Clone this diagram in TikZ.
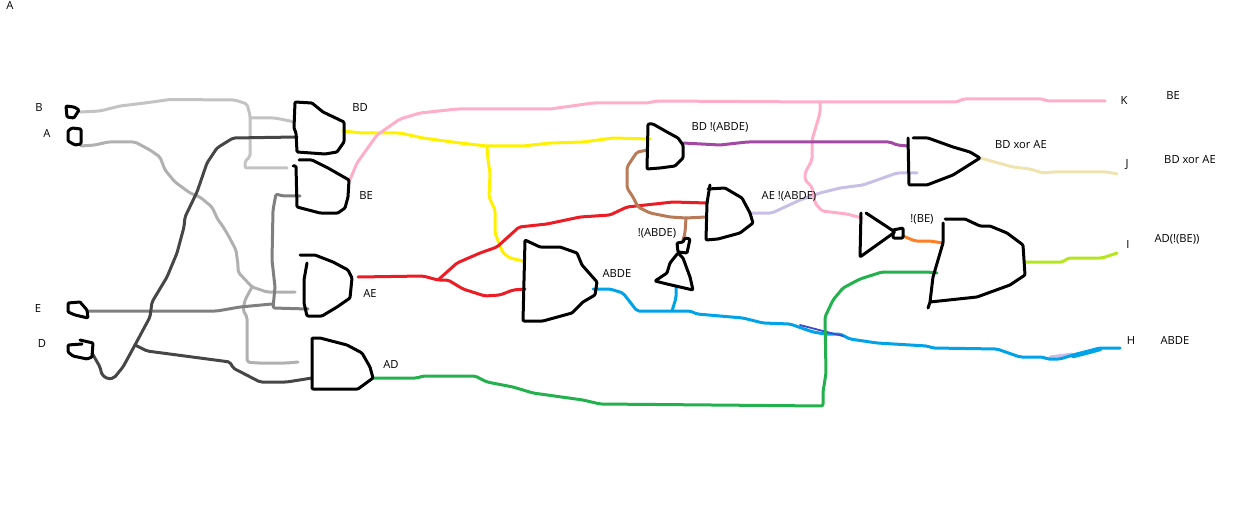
\documentclass[tikz,border=0pt]{standalone}
\usepackage{fontspec}
\setmainfont{Open Sans}
\definecolor{wirelight}{HTML}{C3C3C3}
\definecolor{wiresilver}{HTML}{B0B0B0}
\definecolor{wiregray}{HTML}{7F7F7F}
\definecolor{wiredark}{HTML}{464646}
\definecolor{wireyellow}{HTML}{FFF200}
\definecolor{wirepink}{HTML}{FFAEC9}
\definecolor{wirered}{HTML}{ED1C24}
\definecolor{wirebrown}{HTML}{B97A57}
\definecolor{wireblue}{HTML}{00A2E8}
\definecolor{wireindigo}{HTML}{3F48CC}
\definecolor{wirepurple}{HTML}{A349A4}
\definecolor{wirelavender}{HTML}{C8BFE7}
\definecolor{wiretan}{HTML}{EFE4B0}
\definecolor{wireorange}{HTML}{FF7F27}
\definecolor{wirelime}{HTML}{B5E61D}
\definecolor{wiregreen}{HTML}{22B14C}
\begin{document}
\begin{tikzpicture}[x=1pt, y=-1pt,
    gate/.style={draw=black, line width=3pt, line join=round, line cap=round, rounded corners=1pt},
    wire/.style={line width=3pt, line join=round, line cap=round, rounded corners=2pt},
    tag/.style={inner sep=0pt, font=\fontsize{11.2}{13}\selectfont}]
    \useasboundingbox (0,0) rectangle (1243,508);

    % pins
    \coordinate (bpin) at (80,112);
    \coordinate (apin) at (81,146);
    \coordinate (epin) at (88,311);
    \coordinate (dpin) at (92,353);
    \coordinate (bdout) at (343,131);
    \coordinate (beout) at (349,182);
    \coordinate (aeout) at (358,277);
    \coordinate (adout) at (373,378);
    \coordinate (abdeout) at (593,289);
    \coordinate (abdenotout) at (683,240);
    \coordinate (abdenotin) at (676,287);
    \coordinate (bdnotout) at (683,143);
    \coordinate (aenotout) at (750,213);
    \coordinate (xorout) at (980,158);
    \coordinate (benotin) at (862,218);
    \coordinate (benotout) at (903,236);
    \coordinate (bigin) at (943,243);
    \coordinate (bigout) at (1026,262);
    \coordinate (dsplit) at (135,345);
    \coordinate (asplit) at (252,287);
    \coordinate (bsplit) at (250,118);
    \coordinate (ysplit) at (487,146);
    \coordinate (rsplit) at (438,280);
    \coordinate (psplit) at (820,102);
    \coordinate (nsplit) at (686,218);
    \coordinate (hsplit) at (672,311);

    % inputs
    \draw[wire, wirelight] (bpin) -- (100,111) -- (120,106) -- (145,103) -- (170,99.5) -- (235,100) -- (247,104) -- (250,115) -- (250,157) -- (245,161) -- (245,168) -- (287,168);
    \draw[wire, wirelight] (bsplit) -- (275,118) -- (295,122);
    \draw[wire, wiresilver] (apin) -- (95,145) -- (108,142) -- (135,142) -- (150,150) -- (160,157) -- (165,170) -- (175,182) -- (190,193) -- (200,197) -- (212,207) -- (218,220) -- (222,225) -- (228,235) -- (236,250) -- (238,265) -- (238,272) -- (asplit) -- (267,292) -- (295,292);
    \draw[wire, wiresilver] (asplit) -- (245,300) -- (243,310) -- (247,317) -- (247,362) -- (257,363) -- (287,363) -- (298,362);
    \draw[wire, wiregray] (epin) -- (217,311) -- (240,307) -- (272,304);
    \draw[wire, wiregray] (300,196) -- (283,196) -- (276,194) -- (273,210) -- (272,260) -- (275,287) -- (273,308) -- (308,309);
    \draw[wire, wiredark] (dpin) -- (100,367) -- (102,375) -- (108,379) -- (114,378) -- (123,367) -- (dsplit) -- (150,317) -- (152,302) -- (167,277) -- (177,253) -- (184,227) -- (185,217) -- (197,192) -- (207,163) -- (217,148) -- (233,138) -- (297,137);
    \draw[wire, wiredark] (dsplit) -- (147,351) -- (230,362) -- (233,368) -- (260,382) -- (287,382) -- (312,378);

    % outputs of the first row
    \draw[wire, wireyellow] (bdout) -- (362,133) -- (400,133) -- (423,138) -- (460,143) -- (ysplit) -- (523,146) -- (550,143) -- (583,142) -- (613,138) -- (650,139);
    \draw[wire, wireyellow] (ysplit) -- (488,160) -- (490,173) -- (489,197) -- (495,210) -- (495,233) -- (503,253) -- (510,258) -- (523,261);
    \draw[wire, wirepink] (beout) -- (357,163) -- (377,135) -- (400,119) -- (420,113) -- (457,109) -- (550,109) -- (593,103) -- (647,103) -- (657,101) -- (psplit) -- (957,102) -- (963,99) -- (1043,99) -- (1047,101) -- (1105,101);
    \draw[wire, wirered] (aeout) -- (423,276) -- (rsplit) -- (448,280) -- (463,289) -- (485,296) -- (500,295) -- (513,290) -- (525,289);
    \draw[wire, wirered] (rsplit) -- (457,263) -- (480,253) -- (497,247) -- (519,227) -- (547,224) -- (580,217) -- (610,215) -- (627,207) -- (673,202) -- (707,203);
    \draw[wire, wirebrown] (648,150) -- (637,152) -- (627,167) -- (627,188) -- (633,197) -- (638,207) -- (650,213) -- (670,217) -- (nsplit) -- (706,217);
    \draw[wire, wirebrown] (nsplit) -- (685,233) -- (abdenotout);
    \draw[wire, wirelavender] (aenotout) -- (772,213) -- (800,200) -- (820,193) -- (840,188) -- (863,185) -- (897,173) -- (917,173);
    \draw[wire, wirepink] (psplit) -- (820,113) -- (815,130) -- (812,140) -- (812,160) -- (805,173) -- (805,180) -- (812,187) -- (815,203) -- (822,211) -- (847,214) -- (benotin);
    \draw[wire, wirepurple] (bdnotout) -- (720,145) -- (747,142) -- (890,142) -- (897,145) -- (908,146);
    \draw[wire, wiretan] (xorout) -- (1013,167) -- (1030,169) -- (1043,173) -- (1053,172) -- (1107,172) -- (1117,174);
    \draw[wire, wireorange] (benotout) -- (915,241) -- (930,241) -- (bigin);
    \draw[wire, wirelime] (bigout) -- (1063,262) -- (1068,258) -- (1102,258) -- (1117,253);

    % long ones at the bottom
    \draw[wire, wirelavender] (1050,357) -- (1072,354);
    \draw[wire, wireblue] (abdeout) -- (610,289) -- (623,293) -- (637,311) -- (hsplit) -- (690,311) -- (697,314) -- (743,318) -- (763,323) -- (790,324) -- (813,332) -- (825,334) -- (840,334) -- (850,339) -- (877,343) -- (927,346) -- (933,348) -- (997,349) -- (1020,357) -- (1043,357) -- (1047,359) -- (1060,359) -- (1073,355) -- (1100,348) -- (1120,348);
    \draw[wire, wireblue] (hsplit) -- (676,298) -- (abdenotin);
    \draw[wire, wireblue, line width=4.5pt] (1073,356) -- (1085,353) -- (1100,349);
    \draw[wire, wireindigo, line width=1.8pt] (800,325) -- (823,331) -- (843,336);
    \draw[wire, wiregreen] (adout) -- (417,378) -- (423,376) -- (475,376) -- (487,382) -- (513,387) -- (533,393) -- (583,400) -- (600,404) -- (823,406) -- (823,392) -- (826,373) -- (825,317) -- (833,300) -- (843,288) -- (860,279) -- (882,272) -- (927,272) -- (937,273);

    % input stubs
    \draw[gate] (66,106) -- (67,117) -- (74,118) -- (79,110) -- (74,107) -- cycle;
    \draw[gate] (72,128) -- (68,131) -- (68,141) -- (75,145) -- (81,144) -- (81,129) -- cycle;
    \draw[gate] (80,302) -- (68,303) -- (68,312) -- (75,315) -- (88,318) -- (87,310) -- (80,302);
    \draw[gate] (80,340) -- (93,343) -- (92,357) -- (87,359) -- (73,356) -- (68,352) -- (68,345) -- (82,344);

    % gates
    \draw[gate] (295,102) -- (312,103) -- (323,112) -- (344,122) -- (344,142) -- (337,152) -- (325,154) -- (297,152) -- (296,133) -- (294,128) -- cycle;
    \draw[gate] (299,160) -- (312,160) -- (328,168) -- (349,180) -- (348,197) -- (345,208) -- (338,213) -- (320,213) -- (297,207) -- (296,166) -- (293,166);
    \draw[gate] (300,255) -- (315,255) -- (333,262) -- (348,270) -- (352,278) -- (350,298) -- (337,307) -- (322,316) -- (307,316) -- (304,303) -- (304,280) -- (307,263);
    \draw[gate] (312,338) -- (320,338) -- (347,345) -- (362,353) -- (370,367) -- (373,378) -- (358,389) -- (312,389) -- cycle;
    \draw[gate] (525,240) -- (540,247) -- (560,247) -- (577,253) -- (582,265) -- (597,282) -- (595,295) -- (583,302) -- (572,313) -- (543,321) -- (523,321) -- cycle;
    \draw[gate] (648,124) -- (653,124) -- (667,132) -- (678,138) -- (683,145) -- (683,158) -- (675,166) -- (660,168) -- (647,169) -- cycle;
    \draw[gate] (710,185) -- (707,203) -- (706,240) -- (718,239) -- (740,233) -- (753,223) -- (750,213) -- (742,198) -- (725,188) -- (708,189);
    \draw[gate] (678,253) -- (670,263) -- (667,273) -- (655,281) -- (667,284) -- (693,290) -- (690,277) -- (683,258) -- cycle;
    \draw[gate] (677,243) -- (683,242) -- (685,238) -- (690,239) -- (687,253) -- (678,252) -- cycle;
    \draw[gate] (908,138) -- (909,185) -- (927,185) -- (953,175) -- (980,158) -- (970,152) -- (953,147) -- (928,138) -- (913,138);
    \draw[gate] (861,213) -- (860,257) -- (895,232) -- (866,213);
    \draw[gate] (893,230) -- (903,228) -- (903,238) -- (893,238) -- cycle;
    \draw[gate] (945,219) -- (965,219) -- (980,226) -- (990,226) -- (1007,233) -- (1023,245) -- (1025,275) -- (1010,285) -- (977,297) -- (930,302) -- (933,277) -- (943,243) -- (943,223);
    \draw[gate] (930,302) -- (928,308);

    % labels
    \node[tag] (corner) at (10,5) {A};
    \node[tag] (inb) at (39,108) {B};
    \node[tag] (ina) at (47,133) {A};
    \node[tag] (ine) at (38,309) {E};
    \node[tag] (ind) at (42,344) {D};
    \node[tag] (bdtag) at (360,108) {BD};
    \node[tag] (betag) at (366,196) {BE};
    \node[tag] (aetag) at (370,293) {AE};
    \node[tag] (adtag) at (391,364) {AD};
    \node[tag] (abdetag) at (617,273) {ABDE};
    \node[tag] (abdenottag) at (657,233) {!(ABDE)};
    \node[tag] (bdnottag) at (720,127) {BD !(ABDE)};
    \node[tag] (aenottag) at (789,196) {AE !(ABDE)};
    \node[tag] (xortag) at (1021,145) {BD xor AE};
    \node[tag] (benottag) at (922,219) {!(BE)};
    \node[tag] (outk) at (1124,101) {K};
    \node[tag] (outkname) at (1173,96) {BE};
    \node[tag] (outj) at (1127,165) {J};
    \node[tag] (outjname) at (1190,160) {BD xor AE};
    \node[tag] (outi) at (1128,245) {I};
    \node[tag] (outiname) at (1177,239) {AD(!(BE))};
    \node[tag] (outh) at (1131,341) {H};
    \node[tag] (outhname) at (1175,340) {ABDE};
\end{tikzpicture}
\end{document}
